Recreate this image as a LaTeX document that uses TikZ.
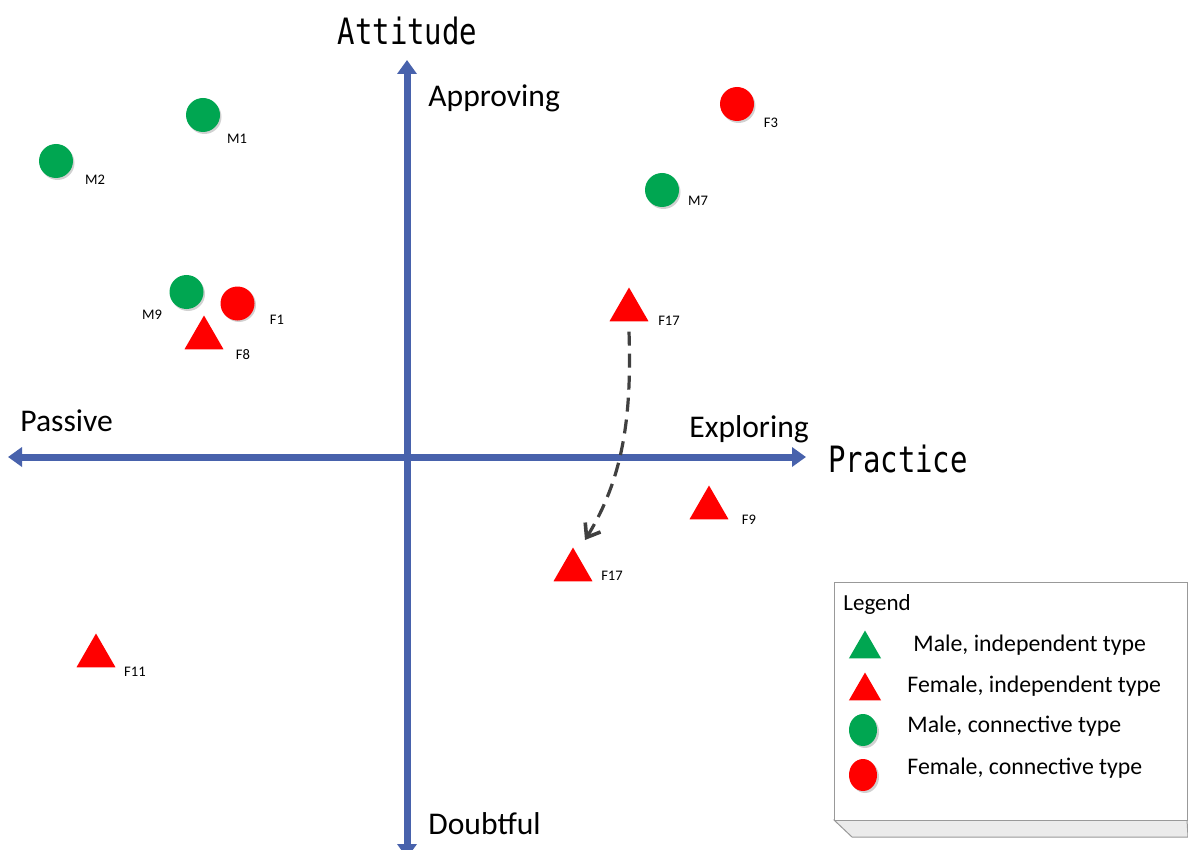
\documentclass[tikz,border=0pt]{standalone}
\usepackage{fontspec}
\setmainfont{Carlito}
\newfontfamily\monof{DejaVu Sans Mono}
\usetikzlibrary{arrows.meta,shapes.geometric,calc}
\definecolor{axisblue}{RGB}{72,98,172}
\definecolor{mgreen}{RGB}{0,166,81}
\definecolor{fred}{RGB}{255,0,0}
\definecolor{arrowgray}{RGB}{64,64,64}
\begin{document}
\begin{tikzpicture}[x=0.5pt,y=-0.5pt,
  axis/.style={draw=axisblue,line width=3.5pt,{Triangle[width=9.5pt,length=7pt]}-{Triangle[width=9.5pt,length=7pt]}},
  dot/.style={circle,minimum size=17pt,inner sep=0pt,draw=none},
  gdot/.style={dot,fill=mgreen},
  rdot/.style={dot,fill=fred},
  shad/.style={circle,minimum size=17pt,inner sep=0pt,fill=black!18},
  tri/.style={regular polygon,regular polygon sides=3,minimum size=22.5pt,inner sep=0pt,fill=fred,draw=none},
  ltri/.style={regular polygon,regular polygon sides=3,minimum size=18.5pt,inner sep=0pt,draw=none},
  ldot/.style={ellipse,minimum width=14pt,minimum height=16pt,inner sep=0pt,draw=none},
  lab/.style={font=\fontsize{7.3}{8}\selectfont,inner sep=0pt},
  big/.style={font=\fontsize{15.8}{18}\selectfont,inner sep=0pt},
  title/.style={font=\monof\fontsize{14.5}{17}\selectfont,inner sep=0pt},
  legtext/.style={font=\fontsize{11.9}{13}\selectfont,inner sep=0pt,anchor=west},
  dasharrow/.style={draw=arrowgray,line width=1.6pt,dash pattern=on 7pt off 4pt,-{Straight Barb[length=6pt,width=9pt,line width=1.8pt]}}
]
\useasboundingbox (0,0) rectangle (1188,850);
\fill[white] (0,0) rectangle (1188,850);

% axes
\coordinate (ytop) at (407,60);
\coordinate (ybot) at (407,858);
\coordinate (xleft) at (8,457);
\coordinate (xright) at (806,457);
\draw[axis] (ybot) -- (ytop);
\draw[axis] (xleft) -- (xright);

% axis labels
\node[title] (attitude) at (407.5,31) {\scalebox{1}[1.25]{Attitude}};
\node[title] (practice) at (898,459) {\scalebox{1}[1.25]{Practice}};
\node[big,anchor=base west] (approving) at (428,107) {Approving};
\node[big,anchor=base west] (passive) at (20,431) {Passive};
\node[big,anchor=base west] (exploring) at (689,437) {Exploring};
\node[big,anchor=base west] (doubtful) at (428,834) {Doubtful};

% circles (with soft shadow)
\foreach \p in {(204.5,117),(57.5,163),(738.5,106),(663.5,192),(188,294),(239,305)}
  \node[shad] at \p {};
\node[gdot] (M1) at (203,115) {};
\node[gdot] (M2) at (56,161) {};
\node[rdot] (F3) at (737,104) {};
\node[gdot] (M7) at (662,190) {};
\node[gdot] (M9) at (186.5,292) {};
\node[rdot] (F1) at (237.5,303.5) {};

% triangles
\node[tri] (F8) at (204,338) {};
\node[tri] (F17a) at (629,310) {};
\node[tri] (F9) at (709,508) {};
\node[tri] (F17b) at (573,570) {};
\node[tri] (F11) at (96,656) {};

% point labels
\node[lab] (lM1) at (237,139) {M1};
\node[lab] (lM2) at (95,180) {M2};
\node[lab] (lF3) at (771,123) {F3};
\node[lab] (lM7) at (698,201) {M7};
\node[lab] (lM9) at (152,315) {M9};
\node[lab] (lF1) at (277,320) {F1};
\node[lab] (lF8) at (243,355) {F8};
\node[lab] (lF17a) at (669,321) {F17};
\node[lab] (lF9) at (749,520) {F9};
\node[lab] (lF17b) at (612,576) {F17};
\node[lab] (lF11) at (135,672) {F11};

% movement arrow
\coordinate (arrend) at (585,540);
\draw[dasharrow] ($(F17a.south)+(0,10)$) .. controls (632,420) and (622,480) .. (arrend);

% legend
\filldraw[fill=black!8,draw=black!40,line width=0.5pt] (834,820) -- (852,837) -- (1188,837) -- (1187,820) -- cycle;
\node[draw=black!40,fill=white,line width=0.5pt,minimum width=176.5pt,minimum height=119pt,inner sep=0pt] (legend) at (1010.5,701) {};
\node[inner sep=0pt,anchor=base west,font=\fontsize{11.5}{13}\selectfont] (legtitle) at (843,610) {Legend};
\node[ltri,fill=mgreen] (lg1) at (865,649) {};
\node[ltri,fill=fred] (lg2) at (865,691) {};
\node[ldot,fill=black!18] at (865,732) {};
\node[ldot,fill=mgreen] (lg3) at (863,730) {};
\node[ldot,fill=black!18] at (865,777) {};
\node[ldot,fill=fred] (lg4) at (863,775) {};
\node[legtext] (lt1) at (913,645) {Male, independent type};
\node[legtext] (lt2) at (907,686) {Female, independent type};
\node[legtext] (lt3) at (907,726) {Male, connective type};
\node[legtext] (lt4) at (907,768) {Female, connective type};
\end{tikzpicture}
\end{document}
